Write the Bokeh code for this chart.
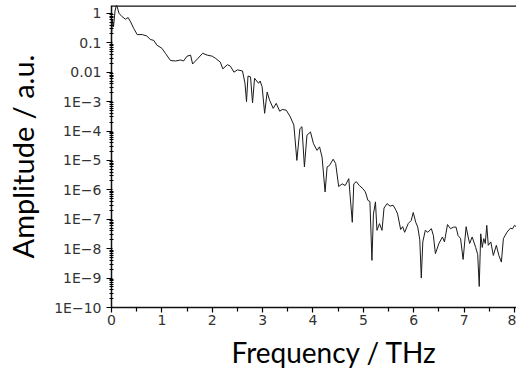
from bokeh.plotting import figure
from bokeh.models import Range1d, FixedTicker, CustomJSTickFormatter, Span, Title
from bokeh.embed import file_html
from bokeh.resources import INLINE

# ---- data ----
freq_thz = [0.00, 0.02, 0.04, 0.07, 0.10, 0.13, 0.15, 0.21, 0.28, 0.33, 0.38, 0.44,
            0.51, 0.61, 0.70, 0.77, 0.84, 0.90, 1.00, 1.07, 1.17, 1.27, 1.37, 1.43,
            1.50, 1.57, 1.61, 1.72, 1.81, 1.90, 2.00, 2.06, 2.16, 2.21, 2.30, 2.36,
            2.43, 2.50, 2.60, 2.65, 2.68, 2.71, 2.76, 2.80, 2.84, 2.92, 2.95, 2.99,
            3.04, 3.09, 3.14, 3.21, 3.27, 3.34, 3.39, 3.47, 3.55, 3.62, 3.68, 3.74,
            3.78, 3.83, 3.88, 3.95, 4.01, 4.08, 4.13, 4.18, 4.24, 4.28, 4.33, 4.40,
            4.45, 4.51, 4.58, 4.64, 4.71, 4.78, 4.81, 4.86, 4.92, 4.99, 5.04, 5.09,
            5.13, 5.17, 5.20, 5.24, 5.27, 5.32, 5.37, 5.41, 5.47, 5.53, 5.59, 5.65,
            5.68, 5.74, 5.78, 5.82, 5.89, 5.95, 5.99, 6.04, 6.08, 6.12, 6.15, 6.18,
            6.23, 6.28, 6.35, 6.39, 6.43, 6.50, 6.57, 6.61, 6.67, 6.73, 6.79, 6.84,
            6.88, 6.93, 6.98, 7.04, 7.08, 7.11, 7.16, 7.23, 7.27, 7.30, 7.33, 7.36,
            7.39, 7.42, 7.45, 7.48, 7.53, 7.58, 7.64, 7.69, 7.74, 7.78, 7.85, 7.92,
            7.96, 8.00, 8.04]
amplitude = [1.8e-1, 6.0e-1, 3.5e-1, 1.2, 2.0, 1.3, 1.0, 7.7e-1, 6.3e-1, 7.2e-1, 5.1e-1, 3.1e-1,
             1.9e-1, 1.9e-1, 1.7e-1, 1.3e-1, 1.2e-1, 8.3e-2, 6.5e-2, 4.4e-2, 2.5e-2, 2.4e-2, 2.6e-2, 2.4e-2,
             3.5e-2, 3.8e-2, 1.9e-2, 3.0e-2, 4.4e-2, 3.8e-2, 3.5e-2, 3.0e-2, 2.2e-2, 1.3e-2, 1.8e-2, 1.6e-2,
             1.0e-2, 1.2e-2, 1.1e-2, 4.2e-3, 1.0e-3, 7.4e-3, 6.9e-3, 9.1e-4, 6.2e-3, 4.2e-3, 5.0e-3, 3.2e-3,
             4.0e-4, 2.1e-3, 1.1e-3, 5.9e-4, 8.7e-4, 4.7e-4, 5.4e-4, 5.1e-4, 3.0e-4, 1.6e-4, 1.0e-5, 1.2e-4,
             1.4e-4, 6.0e-6, 7.2e-5, 9.3e-5, 3.7e-5, 2.2e-5, 2.9e-5, 1.3e-5, 8.5e-7, 6.0e-6, 6.8e-6, 1.1e-5,
             7.8e-6, 1.3e-6, 1.6e-6, 1.4e-6, 2.4e-6, 7.9e-8, 1.6e-6, 1.9e-6, 1.4e-6, 1.1e-6, 8.5e-7, 4.4e-7,
             4.0e-7, 4.0e-9, 1.5e-7, 3.9e-7, 4.2e-8, 7.1e-8, 4.2e-8, 2.4e-7, 3.4e-7, 2.8e-7, 3.0e-7, 2.0e-7,
             1.5e-7, 4.5e-8, 5.6e-8, 3.6e-8, 7.1e-8, 9.1e-8, 1.7e-7, 7.9e-8, 5.4e-8, 2.0e-8, 1.0e-9, 1.7e-8,
             4.2e-8, 3.6e-8, 4.8e-8, 2.8e-8, 6.8e-9, 1.5e-8, 2.5e-8, 1.7e-8, 6.6e-8, 4.8e-8, 5.4e-8, 5.4e-8,
             2.8e-8, 2.2e-8, 4.3e-9, 5.6e-8, 2.5e-8, 1.5e-8, 2.5e-8, 1.1e-8, 6.3e-9, 5.2e-10, 3.2e-8, 1.1e-8,
             2.2e-8, 1.5e-8, 6.2e-8, 1.3e-8, 1.7e-8, 5.9e-9, 1.3e-8, 5.9e-9, 3.5e-9, 2.2e-8, 3.6e-8, 5.0e-8,
             4.7e-8, 6.2e-8, 5.5e-8]

x_tick_values = [0, 1, 2, 3, 4, 5, 6, 7, 8]
x_minor_values = [0.5, 1.5, 2.5, 3.5, 4.5, 5.5, 6.5, 7.5]
y_tick_values = [1e-10, 1e-9, 1e-8, 1e-7, 1e-6, 1e-5, 1e-4, 1e-3, 1e-2, 1e-1, 1.0]
y_tick_labels = ["1E\u221210", "1E\u22129", "1E\u22128", "1E\u22127", "1E\u22126", "1E\u22125",
                 "1E\u22124", "1E\u22123", "0.01", "0.1", "1"]
y_minor_values = [k * 10.0 ** e for e in range(-10, 1) for k in range(2, 10)]

x_title = "Frequency / THz"
y_title = "Amplitude / a.u."

p = figure(width=516, height=374, output_backend="svg", toolbar_location=None,
           y_axis_type="log",
           x_range=Range1d(0, 8.04), y_range=Range1d(1e-10, 1.85),
           min_border_left=111, min_border_right=0, min_border_top=5, min_border_bottom=67)
p.outline_line_color = None
p.xgrid.visible = False
p.ygrid.visible = False
p.background_fill_color = "white"
p.border_fill_color = "white"

p.line(freq_thz, amplitude, line_color="#1a1a1a", line_width=1.0)

tick_font = "DejaVu Sans"
xa = p.xaxis[0]
xa.ticker = FixedTicker(ticks=x_tick_values, minor_ticks=x_minor_values)
xa.axis_line_width = 1.5
xa.axis_line_color = "#111111"
xa.major_tick_out = 5
xa.major_tick_in = 0
xa.minor_tick_out = 4
xa.minor_tick_in = 0
xa.major_tick_line_width = 1.2
xa.minor_tick_line_width = 1.2
xa.major_label_standoff = 2
xa.major_label_text_font = tick_font
xa.major_label_text_font_size = "14px"
xa.major_label_text_color = "#333333"

ya = p.yaxis[0]
ya.ticker = FixedTicker(ticks=y_tick_values, minor_ticks=y_minor_values)
ya.formatter = CustomJSTickFormatter(args=dict(vals=y_tick_values, labs=y_tick_labels), code="""
    const e = Math.round(Math.log10(tick));
    for (let i = 0; i < vals.length; i++) {
        if (Math.round(Math.log10(vals[i])) == e) return labs[i];
    }
    return "";
""")
ya.axis_line_width = 1.5
ya.axis_line_color = "#111111"
ya.major_tick_out = 5
ya.major_tick_in = 1
ya.minor_tick_out = 2
ya.minor_tick_in = 2
ya.major_tick_line_width = 1.2
ya.minor_tick_line_width = 1.0
ya.major_label_standoff = 5
ya.major_label_text_font = tick_font
ya.major_label_text_font_size = "14px"
ya.major_label_text_color = "#333333"
ya.axis_label = y_title
ya.axis_label_text_font = "Lato"
ya.axis_label_text_font_size = "29px"
ya.axis_label_text_font_style = "normal"
ya.axis_label_text_color = "black"
ya.axis_label_standoff = 11

top_line = Span(location=1.85, dimension="width", line_color="#111111", line_width=2.5)
p.add_layout(top_line)

xtitle = Title(text=x_title, align="left", offset=120, text_font="Lato",
               text_font_size="28px", text_font_style="normal", text_color="black",
               standoff=10)
p.add_layout(xtitle, "below")

open("out.html", "w").write(file_html(p, INLINE))
